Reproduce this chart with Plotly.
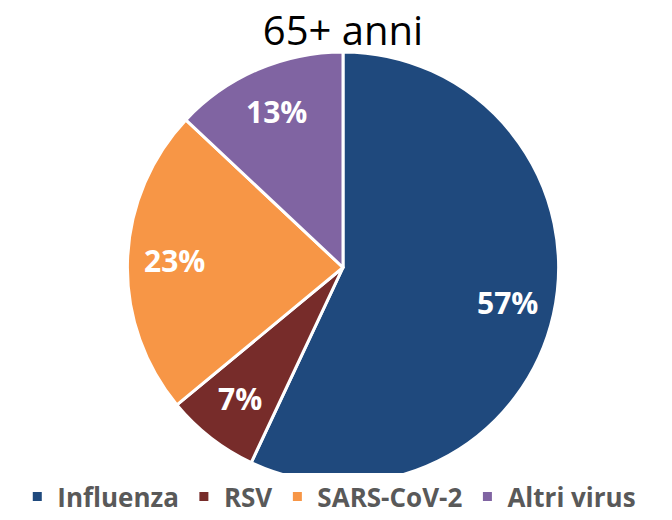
import math
import plotly.graph_objects as go

categorie = ["Influenza", "RSV", "SARS-CoV-2", "Altri virus"]
percentuali = [57, 7, 23, 13]
colori = ["#1F497D", "#772C2A", "#F79646", "#8064A2"]

W, H = 672, 520
cx, cy, r = 343, 266, 213  # centro e raggio della torta in pixel
r_dom = r + 3  # plotly restringe un po' il raggio dentro il dominio

dom_x = [(cx - r_dom) / W, (cx + r_dom) / W]
dom_y = [(H - cy - 2 - r_dom) / H, (H - cy - 2 + r_dom) / H]

fig = go.Figure(go.Pie(
    labels=categorie,
    values=percentuali,
    sort=False,
    direction="clockwise",
    rotation=0,
    domain=dict(x=dom_x, y=dom_y),
    marker=dict(colors=colori, line=dict(color="white", width=3)),
    textinfo="none",
    hoverinfo="label+percent",
))

# etichette percentuali dentro le fette, a circa 0.8 del raggio
totale = sum(percentuali)
cum = 0
for v in percentuali:
    mid = (cum + v / 2) / totale * 2 * math.pi
    cum += v
    px_ = cx + 0.79 * r * math.sin(mid)
    py_ = cy - 0.79 * r * math.cos(mid)
    fig.add_annotation(
        x=px_ / W, y=1 - py_ / H, xref="paper", yref="paper",
        xanchor="center", yanchor="middle",
        text=f"{v}%", showarrow=False,
        font=dict(family="Open Sans", size=30, color="white", weight="bold"),
    )

fig.update_layout(
    width=W,
    height=H,
    margin=dict(l=0, r=0, t=0, b=0),
    paper_bgcolor="white",
    title=dict(
        text="65+ anni",
        x=cx / W,
        xanchor="center",
        y=1 - 31 / H,
        yanchor="middle",
        font=dict(family="Open Sans", size=40, color="black"),
    ),
    legend=dict(
        orientation="h",
        x=0.49,
        xanchor="center",
        y=1 - 497 / H,
        yanchor="middle",
        font=dict(family="Open Sans", size=26, color="#595959", weight="bold"),
        itemwidth=30,
    ),
    showlegend=True,
)

fig.write_html(
    "out.html",
    config={"displayModeBar": False},
    post_script="document.body.style.margin='0';",
)
